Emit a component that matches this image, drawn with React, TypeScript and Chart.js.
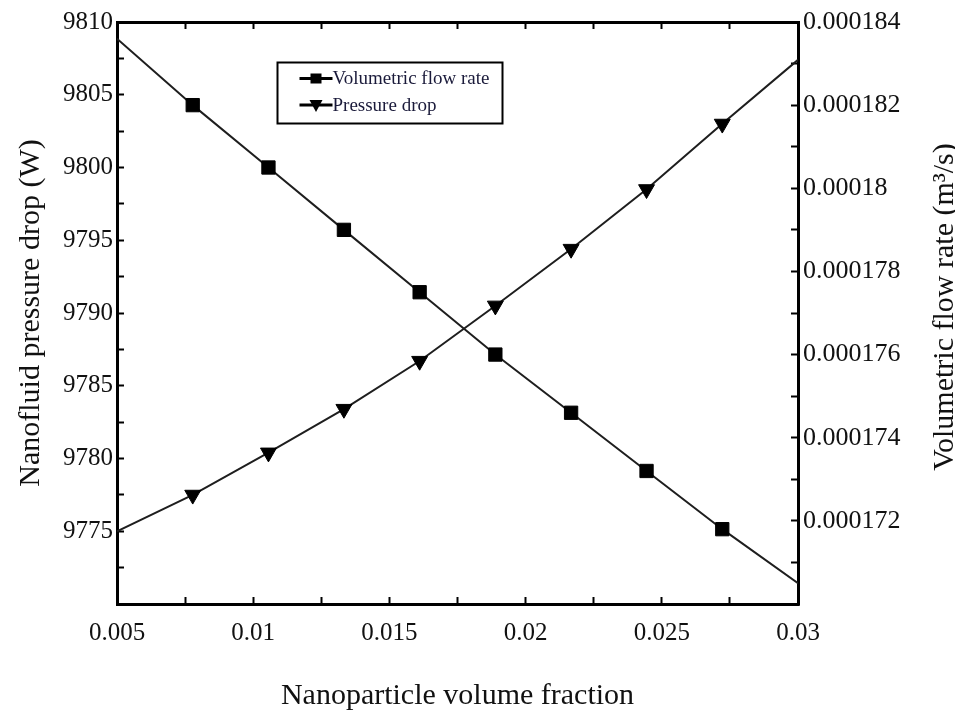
import React, { useEffect, useRef } from 'react';
import { Chart, registerables } from 'chart.js';

Chart.register(...registerables);

// ---- data ----
const volumeFraction = [0.005, 0.00778, 0.01056, 0.01333, 0.01611, 0.01889, 0.02167, 0.02444, 0.02722, 0.03];
const pressureDrop = [9775.0, 9777.5, 9780.4, 9783.4, 9786.7, 9790.5, 9794.4, 9798.5, 9803.0, 9807.4];
const flowRate = [0.0001836, 0.000182, 0.0001805, 0.000179, 0.0001775, 0.000176, 0.0001746, 0.0001732, 0.0001718, 0.0001705];

const seriesNames = ['Volumetric flow rate', 'Pressure drop'];

const xTickLabels = ['0.005', '0.01', '0.015', '0.02', '0.025', '0.03'];
const leftTickLabels = ['9775', '9780', '9785', '9790', '9795', '9800', '9805', '9810'];
const rightTickLabels = ['0.000172', '0.000174', '0.000176', '0.000178', '0.00018', '0.000182', '0.000184'];

const xTitle = 'Nanoparticle volume fraction';
const leftTitle = 'Nanofluid pressure drop (W)';
const rightTitle = 'Volumetric flow rate (m\u00B3/s)';

// axis ranges and tick steps (including minor ticks)
const xRange = [0.005, 0.03];
const xStep = 0.0025;
const leftRange = [9770, 9810];
const leftStep = 2.5;
const rightRange = [0.00017, 0.000184];
const rightStep = 0.000001;

const SERIF = '"Liberation Serif", "Times New Roman", Times, serif';
const TEXT = '#111';

function makeTicks(min: number, max: number, step: number) {
  const n = Math.round((max - min) / step);
  const out: { value: number }[] = [];
  for (let i = 0; i <= n; i++) out.push({ value: Number((min + i * step).toPrecision(10)) });
  return out;
}

function labelFor(list: string[], value: number, tol: number) {
  const found = list.find((l) => Math.abs(Number(l) - value) < tol);
  return found ?? '';
}

const tickGrid = {
  drawOnChartArea: false,
  drawTicks: true,
  tickLength: -7,
  tickWidth: 2,
  tickColor: '#000',
};
const axisBorder = { display: true, color: '#000', width: 3 };

const noPad = (s: any) => {
  s.paddingTop = 0;
  s.paddingBottom = 0;
  s.paddingLeft = 0;
  s.paddingRight = 0;
};

const refPlugin = {
  id: 'refDecor',
  afterDraw(chart: any) {
    const ctx = chart.ctx as CanvasRenderingContext2D;
    const ca = chart.chartArea;
    ctx.save();
    // legend box
    const bx = ca.left + 160.5;
    const by = ca.top + 40.5;
    const bw = 225;
    const bh = 61;
    ctx.lineWidth = 2;
    ctx.strokeStyle = '#000';
    ctx.strokeRect(bx, by, bw, bh);
    const rows = [by + 16, by + 42.5];
    const segL = bx + 22;
    const segR = bx + 55;
    const mx = (segL + segR) / 2;
    ctx.font = `19px ${SERIF}`;
    ctx.textBaseline = 'middle';
    ctx.textAlign = 'left';
    rows.forEach((ry, i) => {
      ctx.strokeStyle = '#000';
      ctx.lineWidth = 3;
      ctx.beginPath();
      ctx.moveTo(segL, ry);
      ctx.lineTo(segR, ry);
      ctx.stroke();
      ctx.fillStyle = '#000';
      if (i === 0) {
        ctx.fillRect(mx - 5.5, ry - 5, 11, 10);
      } else {
        ctx.beginPath();
        ctx.moveTo(mx - 6.5, ry - 5);
        ctx.lineTo(mx + 6.5, ry - 5);
        ctx.lineTo(mx, ry + 7);
        ctx.closePath();
        ctx.fill();
      }
      ctx.fillStyle = '#1a1a3a';
      ctx.fillText(seriesNames[i], segR, ry + 1);
    });
    // right axis title, reading bottom-to-top
    ctx.translate(chart.width - 10, (ca.top + ca.bottom) / 2 - 6);
    ctx.rotate(-Math.PI / 2);
    ctx.font = `30px ${SERIF}`;
    ctx.fillStyle = TEXT;
    ctx.textAlign = 'center';
    ctx.textBaseline = 'middle';
    ctx.fillText(rightTitle, 0, 0);
    ctx.restore();
  },
};

export default function App() {
  const ref = useRef<HTMLCanvasElement | null>(null);

  useEffect(() => {
    if (!ref.current) return;
    const isEnd = (c: any) => c.dataIndex === 0 || c.dataIndex === volumeFraction.length - 1;
    const chart = new Chart(ref.current, {
      type: 'line',
      data: {
        datasets: [
          {
            label: seriesNames[0],
            data: volumeFraction.map((x, i) => ({ x, y: flowRate[i] })),
            xAxisID: 'x',
            yAxisID: 'y1',
            borderColor: '#1e1e1e',
            borderWidth: 2,
            tension: 0,
            fill: false,
            pointStyle: 'rect',
            pointRadius: (c: any) => (isEnd(c) ? 0 : 9.4),
            pointBackgroundColor: '#000',
            pointBorderColor: '#000',
            pointBorderWidth: 1,
          },
          {
            label: seriesNames[1],
            data: volumeFraction.map((x, i) => ({ x, y: pressureDrop[i] })),
            xAxisID: 'x',
            yAxisID: 'y',
            borderColor: '#1e1e1e',
            borderWidth: 2,
            tension: 0,
            fill: false,
            pointStyle: 'triangle',
            pointRotation: 180,
            pointRadius: (c: any) => (isEnd(c) ? 0 : 9.2),
            pointBackgroundColor: '#000',
            pointBorderColor: '#000',
            pointBorderWidth: 1,
          },
        ],
      },
      options: {
        responsive: false,
        animation: false,
        events: [],
        layout: { padding: 0 },
        plugins: {
          legend: { display: false },
          tooltip: { enabled: false },
        },
        scales: {
          x: {
            type: 'linear',
            position: 'bottom',
            min: xRange[0],
            max: xRange[1],
            afterBuildTicks: (s: any) => {
              s.ticks = makeTicks(xRange[0], xRange[1], xStep);
            },
            afterFit: (s: any) => {
              s.height = 107;
              noPad(s);
            },
            border: axisBorder,
            grid: tickGrid,
            ticks: {
              autoSkip: false,
              maxRotation: 0,
              padding: 21,
              color: TEXT,
              font: { family: SERIF, size: 25 },
              callback: (v: any) => labelFor(xTickLabels, Number(v), 1e-6),
            },
            title: {
              display: true,
              text: xTitle,
              color: TEXT,
              font: { family: SERIF, size: 30, lineHeight: 1 },
              padding: { top: 0, bottom: 0 },
            },
          },
          x2: {
            type: 'linear',
            position: 'top',
            min: xRange[0],
            max: xRange[1],
            afterBuildTicks: (s: any) => {
              s.ticks = makeTicks(xRange[0], xRange[1], xStep);
            },
            afterFit: (s: any) => {
              s.height = 14;
              noPad(s);
            },
            border: axisBorder,
            grid: tickGrid,
            ticks: { display: false },
          },
          y: {
            type: 'linear',
            position: 'left',
            min: leftRange[0],
            max: leftRange[1],
            afterBuildTicks: (s: any) => {
              s.ticks = makeTicks(leftRange[0], leftRange[1], leftStep);
            },
            afterFit: (s: any) => {
              s.width = 109;
              noPad(s);
            },
            border: axisBorder,
            grid: tickGrid,
            ticks: {
              autoSkip: false,
              padding: 11,
              color: TEXT,
              font: { family: SERIF, size: 25 },
              callback: (v: any) => labelFor(leftTickLabels, Number(v), 1e-3),
            },
            title: {
              display: true,
              text: leftTitle,
              color: TEXT,
              font: { family: SERIF, size: 30, lineHeight: 1 },
              padding: { top: 8, bottom: 0 },
            },
          },
          y1: {
            type: 'linear',
            position: 'right',
            min: rightRange[0],
            max: rightRange[1],
            afterBuildTicks: (s: any) => {
              s.ticks = makeTicks(rightRange[0], rightRange[1], rightStep);
            },
            afterFit: (s: any) => {
              s.width = 157;
              noPad(s);
            },
            border: axisBorder,
            grid: tickGrid,
            ticks: {
              autoSkip: false,
              padding: 12,
              color: TEXT,
              font: { family: SERIF, size: 26 },
              callback: (v: any) => labelFor(rightTickLabels, Number(v), 1e-10),
            },
            title: { display: false },
          },
        },
      },
      plugins: [refPlugin],
    });
    return () => chart.destroy();
  }, []);

  return (
    <div style={{ width: 947, height: 703 }}>
      <canvas ref={ref} width={947} height={703} style={{ display: 'block' }} />
    </div>
  );
}
